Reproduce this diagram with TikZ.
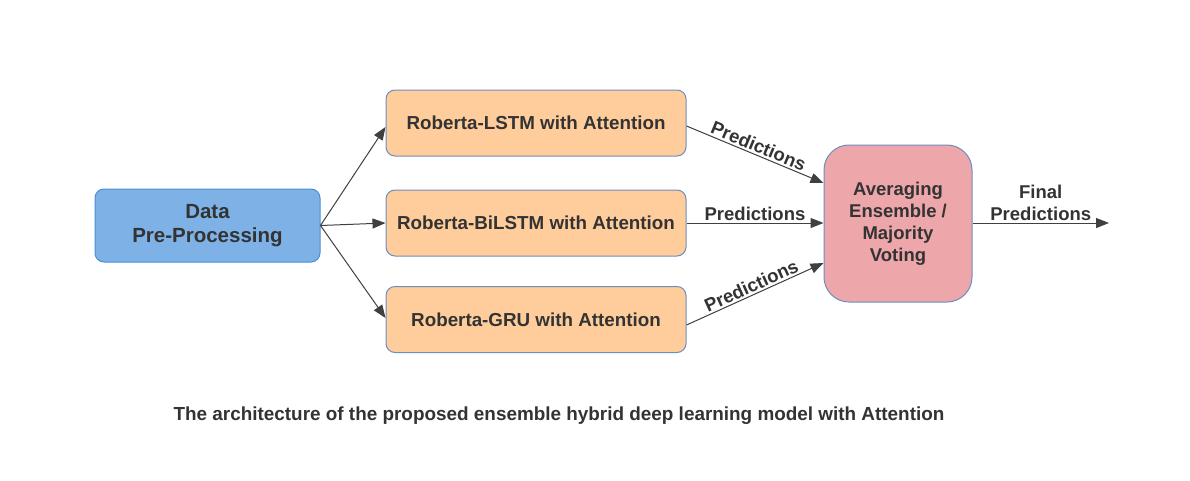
\documentclass[tikz,border=0pt]{standalone}
\usepackage{fontspec}
\setmainfont{Liberation Sans}
\usetikzlibrary{arrows.meta}
\definecolor{txt}{HTML}{333333}
\definecolor{arr}{HTML}{404040}
\definecolor{bluefill}{HTML}{7EB2E6}
\definecolor{blueedge}{HTML}{4A8FD6}
\definecolor{orangefill}{HTML}{FFCD9B}
\definecolor{pinkfill}{HTML}{EDA6A9}
\definecolor{grayedge}{HTML}{6C8EBF}
\tikzset{
  box/.style={draw, line width=1pt, rounded corners=9pt, align=center, text=txt,
    font=\fontsize{18.8}{22}\selectfont\bfseries, inner sep=0pt},
  model/.style={box, fill=orangefill, draw=grayedge, minimum width=300pt, minimum height=66pt},
  conn/.style={draw=arr, line width=1pt, -{Triangle[length=13pt,width=10pt]}},
  lbl/.style={text=txt, font=\fontsize{18.5}{22}\selectfont\bfseries, inner sep=2pt}
}
\begin{document}
\begin{tikzpicture}[x=1pt,y=-1pt]
\useasboundingbox[fill=white] (0,0) rectangle (1190,480);
\node[box, fill=bluefill, draw=blueedge, minimum width=225pt, minimum height=73pt, font=\fontsize{20.5}{24}\selectfont\bfseries] (data) at (207.5,225.5) {Data\\Pre-Processing};
\node[model] (lstm) at (536,123) {Roberta-LSTM with Attention};
\node[model] (bilstm) at (536,223) {Roberta-BiLSTM with Attention};
\node[model] (gru) at (536,319.5) {Roberta-GRU with Attention};
\node[box, fill=pinkfill, draw=grayedge, rounded corners=25pt, minimum width=148pt, minimum height=157pt, font=\fontsize{18.5}{22}\selectfont\bfseries] (ens) at (898,223.5) {Averaging\\Ensemble /\\Majority\\Voting};
\coordinate (out) at (1109,223);
\draw[conn] (data.east) -- (lstm.west |- 0,127);
\draw[conn] (data.east) -- (bilstm.west);
\draw[conn] (data.east) -- (gru.west |- 0,318);
\draw[conn] (lstm.east |- 0,126) -- node[lbl, sloped, above] {Predictions} (ens.west |- 0,183);
\draw[conn] (bilstm.east) -- node[lbl, above] {Predictions} (ens.west |- 0,223);
\draw[conn] (gru.east |- 0,325) -- node[lbl, sloped, above] {Predictions} (ens.west |- 0,263);
\draw[conn] (ens.east |- 0,223) -- node[lbl, above, align=center, font=\fontsize{18.5}{22}\selectfont\bfseries] {Final\\Predictions} (out);
\node[text=txt, font=\fontsize{18.9}{22}\selectfont\bfseries] (cap) at (559,416) {The architecture of the proposed ensemble hybrid deep learning model with Attention};
\end{tikzpicture}
\end{document}
